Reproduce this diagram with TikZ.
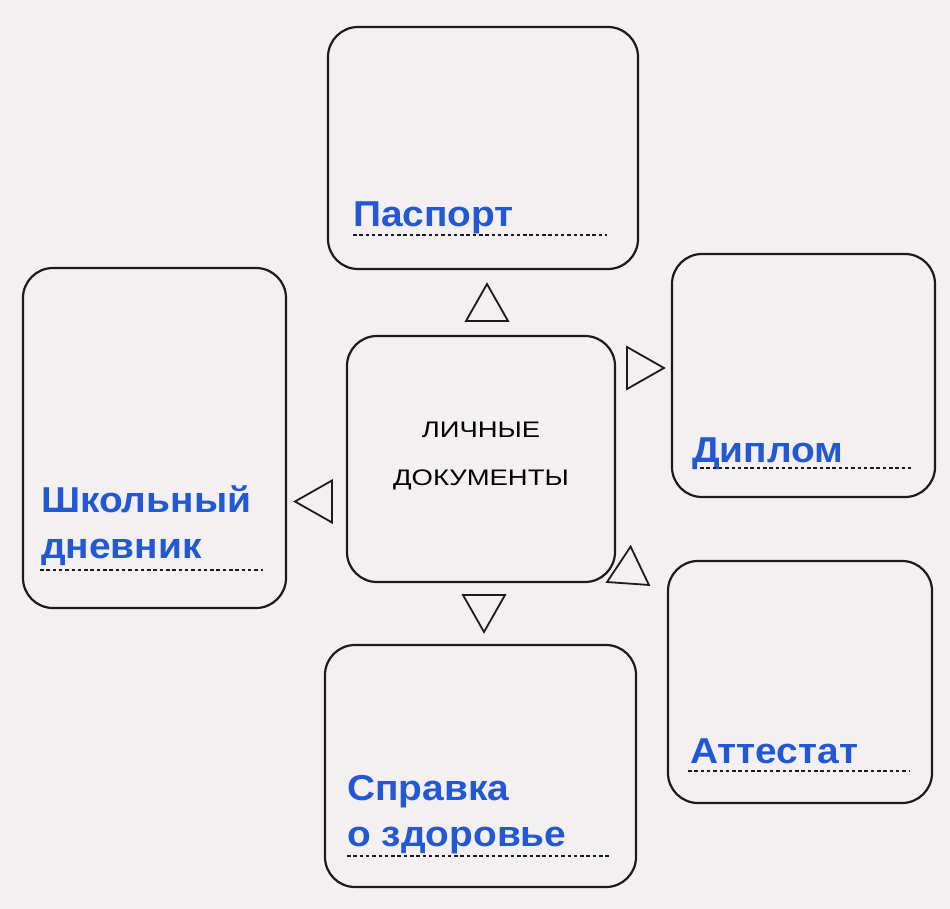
\documentclass[tikz,border=0pt]{standalone}
\usepackage{fontspec}
\setmainfont{Liberation Sans}
\newfontfamily\namefont{Liberation Sans}[FakeStretch=1.08]
\newfontfamily\titlefont{Liberation Sans}[FakeStretch=1.22]
\definecolor{paper}{RGB}{244,240,241}
\definecolor{docblue}{RGB}{34,88,212}
\definecolor{ink}{RGB}{30,26,26}
\tikzset{
	docbox/.style={draw=ink, line width=2.2pt, rounded corners=30pt, inner sep=0pt},
	docname/.style={anchor=base west, inner sep=0pt, text=docblue, align=left, font=\namefont\bfseries\fontsize{36}{46}\selectfont},
	dotline/.style={ink, line width=1.1pt, dash pattern=on 3.5pt off 2.8pt},
	pointer/.style={draw=ink, line width=1.8pt, fill=paper, line join=miter}
}
\begin{document}
\begin{tikzpicture}[x=1pt, y=1pt]
	\fill[paper] (0,0) rectangle (950,-909);
	\useasboundingbox (0,0) rectangle (950,-909);

	\node[docbox, minimum width=268pt, minimum height=246pt, align=center, font=\titlefont\fontsize{22.5}{48}\selectfont, text depth=10pt] (center) at (481,-459) {ЛИЧНЫЕ\\ДОКУМЕНТЫ};
	\node[docbox, minimum width=310pt, minimum height=242pt] (pasport) at (483,-148) {};
	\node[docbox, minimum width=263pt, minimum height=340pt] (diary) at (154.5,-438) {};
	\node[docbox, minimum width=263pt, minimum height=243pt] (diplom) at (803.5,-375.5) {};
	\node[docbox, minimum width=264pt, minimum height=242pt] (attestat) at (800,-682) {};
	\node[docbox, minimum width=311pt, minimum height=242pt] (spravka) at (480.5,-766) {};

	\node[docname] (pasportname) at (353,-227) {Паспорт};
	\node[docname] (diaryname) at (41,-558) {Школьный\\дневник};
	\node[docname] (diplomname) at (692,-462) {Диплом};
	\node[docname] (attestatname) at (690,-763) {Аттестат};
	\node[docname] (spravkaname) at (347,-846) {Справка\\о здоровье};

	\foreach \xa/\xb/\y in {353/607/235, 40/263/570, 700/913/468, 688/910/771, 347/610/856}
		\draw[dotline] (\xa,-\y) -- (\xb,-\y);

	\foreach \x/\y/\r in {487/321/0, 332/501.5/90, 627/368/-90, 484/595/180, 628/583.5/-4}
		\draw[pointer, shift={(\x,-\y)}, rotate=\r] (-21,0) -- (21,0) -- (0,37) -- cycle;
\end{tikzpicture}
\end{document}
